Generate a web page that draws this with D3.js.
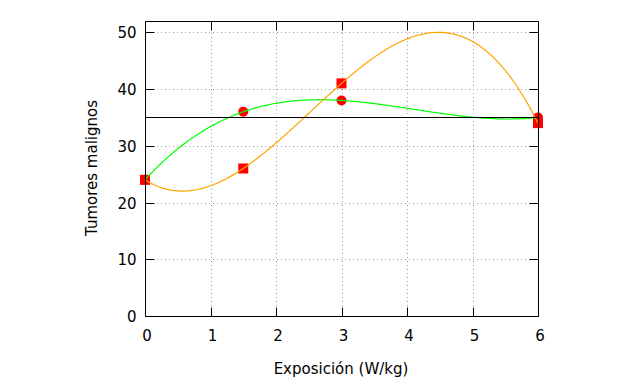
<!DOCTYPE html>
<html><head><meta charset="utf-8">
<script src="https://cdn.jsdelivr.net/npm/d3@7"></script>
<style>body{margin:0;background:#fff}svg{display:block}text{font-family:"DejaVu Sans",Verdana,sans-serif;fill:#000}</style>
</head><body>
<script>
const exposure = [0, 1.5, 3, 6];
const tumorsCircles = [24, 36, 38, 35];
const tumorsSquares = [24, 26, 41, 34];
const referenceLevel = 35;
const xTicks = [0, 1, 2, 3, 4, 5, 6];
const yTicks = [0, 10, 20, 30, 40, 50];
const xLabel = "Exposición (W/kg)";
const yLabel = "Tumores malignos";

const W = 640, H = 384;
const m = {l: 145, r: 102, t: 21, b: 68};
const svg = d3.select("body").append("svg").attr("width", W).attr("height", H);
const x = d3.scaleLinear().domain([0, 6]).range([m.l, W - m.r]);
const y = d3.scaleLinear().domain([0, 52]).range([H - m.b, m.t]);

// grid
const grid = svg.append("g").attr("stroke", "#a0a0a0").attr("stroke-dasharray", "1,3").attr("stroke-width", 1);
xTicks.slice(1, -1).forEach(t => grid.append("line").attr("x1", Math.round(x(t)) + 0.5).attr("x2", Math.round(x(t)) + 0.5).attr("y1", y(52)).attr("y2", y(0)));
yTicks.slice(1).forEach(t => grid.append("line").attr("y1", Math.round(y(t)) + 0.5).attr("y2", Math.round(y(t)) + 0.5).attr("x1", x(0)).attr("x2", x(6)));

// polynomial interpolation through the data points (fitted curve)
function lagrange(xs, ys) {
  return t => ys.reduce((s, yi, i) => {
    let p = yi;
    xs.forEach((xj, j) => { if (j !== i) p *= (t - xj) / (xs[i] - xj); });
    return s + p;
  }, 0);
}
const samples = d3.range(0, 6.0001, 0.02);

// markers
svg.append("g").selectAll("circle").data(exposure).join("circle")
  .attr("cx", (d) => x(d)).attr("cy", (d, i) => y(tumorsCircles[i])).attr("r", 5).attr("fill", "#ff0000");
svg.append("g").selectAll("rect").data(exposure).join("rect")
  .attr("x", d => x(d) - 5).attr("y", (d, i) => y(tumorsSquares[i]) - 5).attr("width", 10).attr("height", 10).attr("fill", "#ff0000");

const line = d3.line().x(d => x(d[0])).y(d => y(d[1]));
const fC = lagrange(exposure, tumorsCircles), fS = lagrange(exposure, tumorsSquares);
svg.append("path").attr("d", line(samples.map(t => [t, fC(t)]))).attr("fill", "none").attr("stroke", "#00ff00").attr("stroke-width", 1.2);
svg.append("path").attr("d", line(samples.map(t => [t, fS(t)]))).attr("fill", "none").attr("stroke", "#ffa500").attr("stroke-width", 1.2);
svg.append("line").attr("x1", x(0)).attr("x2", x(6)).attr("y1", Math.round(y(referenceLevel)) + 0.5).attr("y2", Math.round(y(referenceLevel)) + 0.5).attr("stroke", "#000").attr("stroke-width", 1);

// border and ticks
const ax = svg.append("g").attr("stroke", "#000").attr("stroke-width", 1).attr("fill", "none");
const L = Math.round(x(0)) + 0.5, R = Math.round(x(6)) + 0.5, T = Math.round(y(52)) + 0.5, B = Math.round(y(0)) + 0.5;
ax.append("rect").attr("x", L).attr("y", T).attr("width", R - L).attr("height", B - T);
xTicks.forEach(t => {
  const px = Math.round(x(t)) + 0.5;
  ax.append("line").attr("x1", px).attr("x2", px).attr("y1", B).attr("y2", B - 9);
  ax.append("line").attr("x1", px).attr("x2", px).attr("y1", T).attr("y2", T + 9);
  svg.append("text").attr("x", x(t) + 2).attr("y", B + 24).attr("text-anchor", "middle").attr("font-size", 15).text(t);
});
yTicks.forEach(t => {
  const py = Math.round(y(t)) + 0.5;
  ax.append("line").attr("y1", py).attr("y2", py).attr("x1", L).attr("x2", L + 9);
  ax.append("line").attr("y1", py).attr("y2", py).attr("x1", R).attr("x2", R - 9);
  svg.append("text").attr("x", L - 9).attr("y", py + 5).attr("text-anchor", "end").attr("font-size", 15).text(t);
});
svg.append("text").attr("x", 341).attr("y", 374).attr("text-anchor", "middle").attr("font-size", 15).text(xLabel);
svg.append("text").attr("transform", "translate(97,168) rotate(-90)").attr("text-anchor", "middle").attr("font-size", 15).text(yLabel);
</script>
</body></html>
